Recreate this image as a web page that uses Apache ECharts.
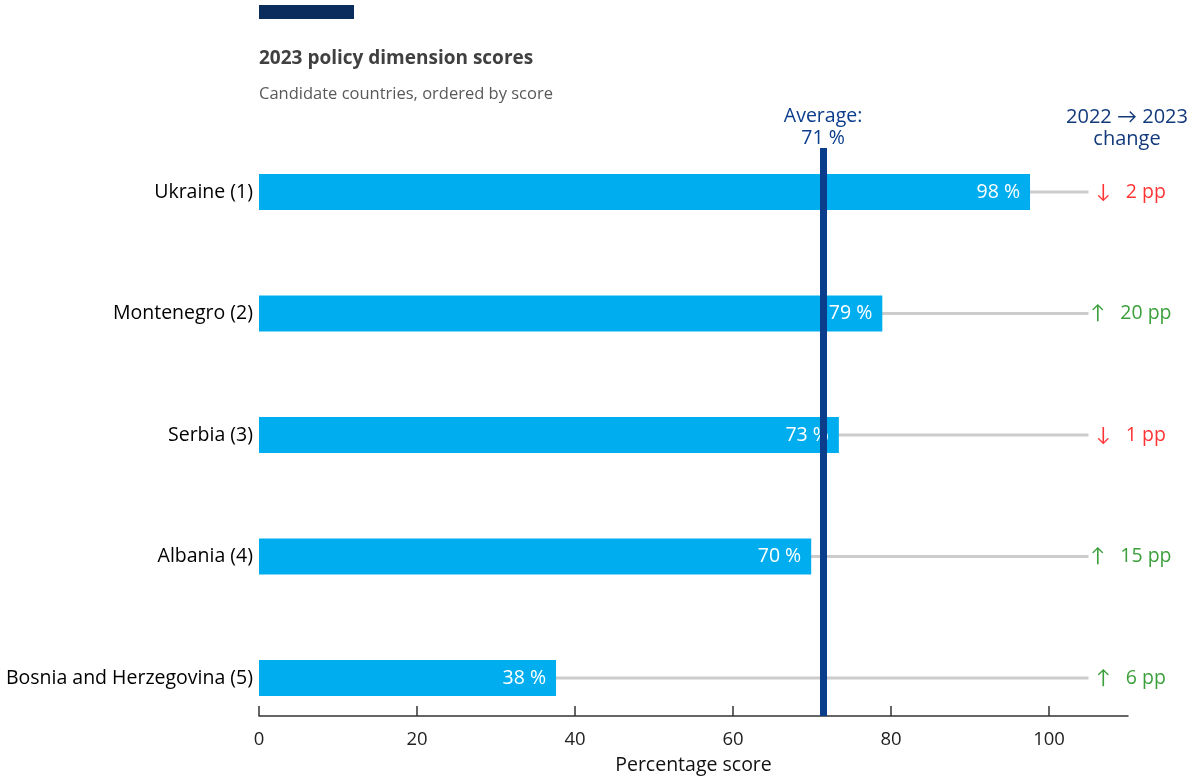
<!DOCTYPE html>
<html><head><meta charset="utf-8">
<script src="https://cdn.jsdelivr.net/npm/echarts@6/dist/echarts.min.js"></script>
<style>html,body{margin:0;padding:0;background:#fff}#c{width:1189px;height:776px}</style>
</head><body><div id="c"></div>
<script>
var categories = ['Ukraine (1)', 'Montenegro (2)', 'Serbia (3)', 'Albania (4)', 'Bosnia and Herzegovina (5)'];
var scores = [97.6, 78.9, 73.4, 69.9, 37.6];
var changes = [-2, 20, -1, 15, 6];
var average = 71.4;
var guideEnd = 105;
var xTicks = [0, 20, 40, 60, 80, 100];
var titleText = '2023 policy dimension scores';
var subtitleText = 'Candidate countries, ordered by score';
var changeHeader = '2022 \u2192 2023\nchange';

var FONT = '"Open Sans", Lato, sans-serif';
var chart = echarts.init(document.getElementById('c'), null, {renderer: 'canvas'});
var option = {
  backgroundColor: '#fff',
  animation: false,
  textStyle: {fontFamily: FONT},
  graphic: [
    {type: 'rect', shape: {x: 259, y: 5, width: 95, height: 14}, style: {fill: '#0b2d5e'}},
    {type: 'text', x: 259, y: 49, style: {text: titleText, font: 'bold 19px ' + FONT, fill: '#404040'}},
    {type: 'text', x: 259, y: 86, style: {text: subtitleText, font: '16.5px ' + FONT, fill: '#595959'}},
    {type: 'text', x: 1127, y: 106, style: {text: changeHeader, font: '20px ' + FONT, fill: '#123a7a', align: 'center', lineHeight: 22}}
  ],
  grid: [
    {left: 259, right: 61, top: 131.25, bottom: 37.25, outerBoundsMode: 'none', containLabel: false},
    {left: 259, right: 61, top: 148, bottom: 60, outerBoundsMode: 'none', containLabel: false}
  ],
  xAxis: [
    {gridIndex: 0, type: 'value', min: 0, max: 110, show: false},
    {gridIndex: 1, type: 'value', min: 0, max: 110, interval: 20,
     axisLine: {show: true, lineStyle: {color: '#333', width: 1.5}},
     axisTick: {show: true, inside: true, length: 10, customValues: xTicks, lineStyle: {color: '#333', width: 1.5}},
     axisLabel: {customValues: xTicks, fontSize: 18.5, color: '#222', margin: 14, fontFamily: FONT},
     splitLine: {show: false},
     name: 'Percentage score', nameLocation: 'middle', nameGap: 39,
     nameTextStyle: {fontSize: 19.5, color: '#111', fontFamily: FONT}}
  ],
  yAxis: [
    {gridIndex: 0, type: 'category', inverse: true, data: categories,
     axisLine: {show: false}, axisTick: {show: false},
     axisLabel: {fontSize: 19.5, color: '#000', margin: 6, fontFamily: FONT}},
    {gridIndex: 1, type: 'value', min: 0, max: 1, show: false},
    {gridIndex: 0, type: 'category', inverse: true, data: categories, show: false}
  ],
  series: [
    {type: 'bar', xAxisIndex: 0, yAxisIndex: 2, barWidth: 3, z: 1,
     itemStyle: {color: '#cccccc'}, silent: true,
     data: categories.map(function(){ return guideEnd; })},
    {type: 'bar', xAxisIndex: 0, yAxisIndex: 0, barWidth: 36, z: 2,
     itemStyle: {color: '#00aeef'},
     label: {show: true, position: 'insideRight', distance: 10, color: '#fff', fontSize: 19.5, fontFamily: FONT,
       formatter: function(p){ return Math.round(p.value) + ' %'; }},
     data: scores},
    {type: 'line', xAxisIndex: 1, yAxisIndex: 1, data: [], z: 5,
     markLine: {symbol: 'none', silent: true,
       lineStyle: {color: '#0a3d8c', width: 7, type: 'solid'},
       label: {show: true, position: 'end', distance: -1, color: '#0a3d8c', fontSize: 19.5, lineHeight: 22, fontFamily: FONT,
         formatter: 'Average:\n' + Math.round(average) + ' %'},
       data: [{xAxis: average}]}},
    {type: 'scatter', xAxisIndex: 0, yAxisIndex: 0, symbolSize: 1, itemStyle: {color: 'rgba(0,0,0,0)'}, clip: false,
     label: {show: true, position: 'inside', offset: [3, 0], fontSize: 19.5, fontFamily: FONT, align: 'center',
       formatter: function(p){
         var c = changes[p.dataIndex];
         return c < 0 ? '{dn|\u2193   ' + Math.abs(c) + ' pp}' : '{up|\u2191   ' + c + ' pp}';
       },
       rich: {dn: {color: '#ff0000', fontSize: 19.5, fontFamily: FONT}, up: {color: '#0a870a', fontSize: 19.5, fontFamily: FONT}}},
     data: categories.map(function(c, i){ return [110, i]; })}
  ]
};
chart.setOption(option);
</script></body></html>
